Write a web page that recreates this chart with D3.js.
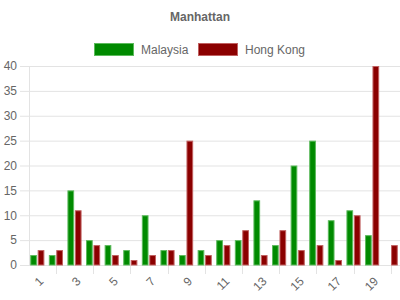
<!DOCTYPE html>
<html>
<head>
<meta charset="utf-8">
<script src="https://cdn.jsdelivr.net/npm/d3@7"></script>
<style>
    body { margin: 0; background: #fff; }
    text { font-family: "Liberation Sans", Arial, sans-serif; fill: #666; }
</style>
</head>
<body>
<div id="chart"></div>
<script>
// chart data
const categories = d3.range(1, 21).map(String);
const seriesNames = ['Malaysia', 'Hong Kong'];
const malaysia = [2, 2, 15, 5, 4, 3, 10, 3, 2, 3, 5, 5, 13, 4, 20, 25, 9, 11, 6, 0];
const hongKong = [3, 3, 11, 4, 2, 1, 2, 3, 25, 2, 4, 7, 2, 7, 3, 4, 1, 10, 40, 4];
const yTicks = [0, 5, 10, 15, 20, 25, 30, 35, 40];

const colors = { 'Malaysia': '#008a00', 'Hong Kong': '#8b0000' };
const borders = { 'Malaysia': '#5cba5c', 'Hong Kong': '#c06060' };

let width = 400, height = 300;
let svg = d3.select('#chart').append('svg')
    .attr('width', width)
    .attr('height', height);

// scales
let x0 = d3.scaleBand()
    .domain(categories)
    .range([28, 400])
    .paddingInner(0.2)
    .paddingOuter(0.1);

let x1 = d3.scaleBand()
    .domain(seriesNames)
    .range([0, x0.bandwidth()])
    .paddingInner(0.1)
    .paddingOuter(0.05);

let y = d3.scaleLinear().domain([0, 40]).range([265, 66]);

// title
svg.append('text')
    .attr('x', 200)
    .attr('y', 21)
    .attr('text-anchor', 'middle')
    .style('font-size', '12px')
    .style('font-weight', 'bold')
    .text('Manhattan');

// legend
let legend = [
    { name: 'Malaysia', x: 94 },
    { name: 'Hong Kong', x: 198 }
];
legend.forEach(l => {
    svg.append('rect')
        .attr('x', l.x + 0.5)
        .attr('y', 43.5)
        .attr('width', 39)
        .attr('height', 12)
        .attr('fill', colors[l.name])
        .attr('stroke', borders[l.name]);
    svg.append('text')
        .attr('x', l.x + 47)
        .attr('y', 54)
        .style('font-size', '12px')
        .text(l.name);
});

// y grid + labels
let yAxis = d3.axisLeft(y).tickValues(yTicks).tickSize(9).tickPadding(3);
let gy = svg.append('g').attr('transform', 'translate(29,0)').call(yAxis);
gy.select('.domain').remove();
gy.selectAll('.tick line')
    .attr('x2', 371)
    .attr('x1', -9)
    .attr('stroke', '#e3e3e3');
gy.selectAll('.tick text')
    .attr('x', -12)
    .style('font-size', '12px')
    .style('fill', '#666');

// y axis line
svg.append('line')
    .attr('x1', 29.5).attr('x2', 29.5)
    .attr('y1', y(40)).attr('y2', y(0))
    .attr('stroke', '#e3e3e3');

// x tick marks at even categories, labels at odd ones
categories.forEach((c, i) => {
    let cx = x0(c) + x0.bandwidth() / 2;
    if (i % 2 === 1) {
        svg.append('line')
            .attr('x1', Math.round(cx) + 0.5).attr('x2', Math.round(cx) + 0.5)
            .attr('y1', y(0)).attr('y2', y(0) + 9)
            .attr('stroke', '#e3e3e3');
    } else {
        svg.append('text')
            .attr('transform', `translate(${cx + 4},${y(0) + 14}) rotate(-45)`)
            .attr('text-anchor', 'end')
            .attr('dy', '0.35em')
            .style('font-size', '12px')
            .text(c);
    }
});

// bars
let rows = categories.map((c, i) => ({ cat: c, values: [
    { name: 'Malaysia', value: malaysia[i] },
    { name: 'Hong Kong', value: hongKong[i] }
] }));

let groups = svg.selectAll('g.cat')
    .data(rows)
    .enter()
    .append('g')
    .attr('class', 'cat')
    .attr('transform', d => `translate(${x0(d.cat)},0)`);

groups.selectAll('rect')
    .data(d => d.values.filter(v => v.value > 0))
    .enter()
    .append('rect')
    .attr('x', d => x1(d.name) + 0.5)
    .attr('y', d => y(d.value) + 0.5)
    .attr('width', x1.bandwidth() - 1)
    .attr('height', d => y(0) - y(d.value) - 0.5)
    .attr('fill', d => colors[d.name])
    .attr('stroke', d => borders[d.name])
    .attr('stroke-width', 1);
</script>
</body>
</html>
